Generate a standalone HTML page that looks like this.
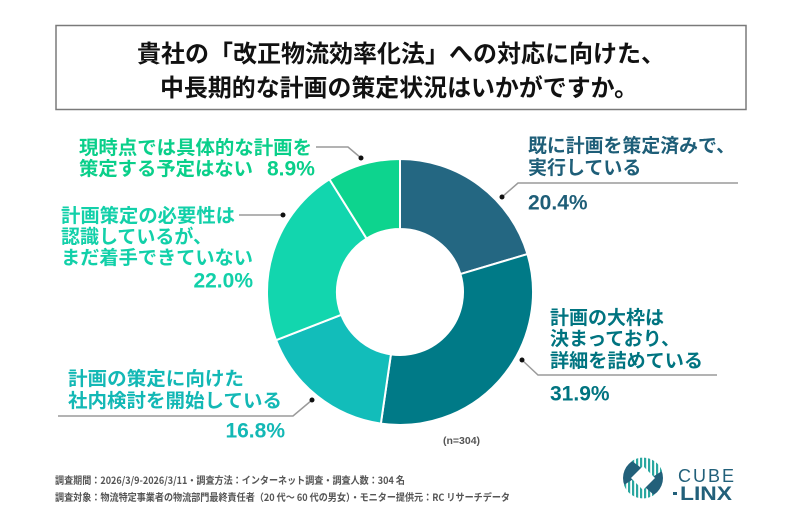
<!DOCTYPE html>
<html>
<head>
<meta charset="utf-8">
<style>
html,body{margin:0;padding:0;background:#fff;}
svg{display:block;}
text{font-family:"Liberation Sans","Noto Sans CJK JP",sans-serif;font-weight:bold;}
.jp{font-family:"Noto Sans CJK JP","Liberation Sans",sans-serif;font-weight:bold;}
</style>
</head>
<body>
<svg width="800" height="525" viewBox="0 0 800 525" xmlns="http://www.w3.org/2000/svg">
<defs>
<pattern id="st" width="4" height="4" patternUnits="userSpaceOnUse">
<rect width="4" height="4" fill="#ffffff"/>
<rect width="2.2" height="4" fill="#2aa7a0"/>
</pattern>
</defs>
<rect width="800" height="525" fill="#fff"/>

<!-- Title box -->
<rect x="56" y="25.5" width="690" height="84" fill="#fff" stroke="#7a7a7a" stroke-width="1.5"/>
<text class="jp" x="137" y="62" font-size="24" fill="#111" textLength="528" lengthAdjust="spacingAndGlyphs">貴社の「改正物流効率化法」への対応に向けた、</text>
<text class="jp" x="160" y="96" font-size="24" fill="#111" textLength="478" lengthAdjust="spacingAndGlyphs">中長期的な計画の策定状況はいかがですか。</text>

<!-- Donut -->
<g stroke="#fff" stroke-width="2" stroke-linejoin="round">
<path d="M400,159 A133,133 0 0 1 527.48,254.08 L460.39,274.04 A63,63 0 0 0 400,229 Z" fill="#246782"/>
<path d="M527.48,254.08 A133,133 0 0 1 380.85,423.62 L390.93,354.34 A63,63 0 0 0 460.39,274.04 Z" fill="#007a87"/>
<path d="M380.85,423.62 A133,133 0 0 1 276.03,340.17 L341.28,314.82 A63,63 0 0 0 390.93,354.34 Z" fill="#12bdba"/>
<path d="M276.03,340.17 A133,133 0 0 1 329.44,179.26 L366.58,238.59 A63,63 0 0 0 341.28,314.82 Z" fill="#12d6ae"/>
<path d="M329.44,179.26 A133,133 0 0 1 400,159 L400,229 A63,63 0 0 0 366.58,238.59 Z" fill="#0dd48e"/>
</g>

<!-- Leader lines -->
<g fill="none" stroke="#9a9a9a" stroke-width="1.5">
<polyline points="316,147 348,147 361,158"/>
<polyline points="239,215 283,215"/>
<polyline points="58,416 293,416 312,400"/>
<polyline points="738,183 518,183 502,197"/>
<polyline points="717,375 538,375 522,360"/>
</g>
<g fill="#111">
<circle cx="361" cy="158" r="2.5"/>
<circle cx="283" cy="215" r="2.5"/>
<circle cx="312" cy="400" r="2.5"/>
<circle cx="502" cy="197" r="2.5"/>
<circle cx="522" cy="360" r="2.5"/>
</g>

<!-- Green label -->
<g fill="#0acf8a">
<text class="jp" x="79" y="154" font-size="19" textLength="233" lengthAdjust="spacingAndGlyphs">現時点では具体的な計画を</text>
<text class="jp" x="79" y="175" font-size="19" textLength="174" lengthAdjust="spacingAndGlyphs">策定する予定はない</text>
<text x="267" y="175.5" font-size="21">8.9%</text>
</g>

<!-- Aqua label -->
<g fill="#12d0a9">
<text class="jp" x="61" y="222" font-size="19" textLength="174" lengthAdjust="spacingAndGlyphs">計画策定の必要性は</text>
<text class="jp" x="61" y="243" font-size="19">認識しているが、</text>
<text class="jp" x="61" y="264" font-size="19" textLength="192" lengthAdjust="spacingAndGlyphs">まだ着手できていない</text>
<text x="253" y="287.5" font-size="21" text-anchor="end">22.0%</text>
</g>

<!-- Cyan label -->
<g fill="#13b8b5">
<text class="jp" x="68" y="385" font-size="19" textLength="176" lengthAdjust="spacingAndGlyphs">計画の策定に向けた</text>
<text class="jp" x="68" y="407" font-size="19" textLength="214" lengthAdjust="spacingAndGlyphs">社内検討を開始している</text>
<text x="285" y="437.5" font-size="21" text-anchor="end">16.8%</text>
</g>

<!-- Dark blue label -->
<g fill="#1e5e78">
<text class="jp" x="528" y="152" font-size="19" textLength="207" lengthAdjust="spacingAndGlyphs">既に計画を策定済みで、</text>
<text class="jp" x="528" y="174" font-size="19">実行している</text>
<text x="528" y="209.5" font-size="21">20.4%</text>
</g>

<!-- Teal label -->
<g fill="#007480">
<text class="jp" x="550" y="324" font-size="19">計画の大枠は</text>
<text class="jp" x="550" y="345" font-size="19">決まっており、</text>
<text class="jp" x="550" y="367" font-size="19" textLength="153" lengthAdjust="spacingAndGlyphs">詳細を詰めている</text>
<text x="550" y="400.5" font-size="21">31.9%</text>
</g>

<text x="443" y="444" font-size="10.5" fill="#555">(n=304)</text>

<!-- Footer -->
<text class="jp" x="55" y="484" font-size="10" fill="#555" textLength="350" lengthAdjust="spacingAndGlyphs">調査期間：2026/3/9-2026/3/11・調査方法：インターネット調査・調査人数：304 名</text>
<text class="jp" x="55" y="501" font-size="10" fill="#555" textLength="455" lengthAdjust="spacingAndGlyphs">調査対象：物流特定事業者の物流部門最終責任者（20 代～ 60 代の男女）・モニター提供元：RC リサーチデータ</text>

<!-- Logo -->
<g>
<circle cx="643" cy="478" r="20" fill="#22607a"/>
<path d="M632,461 A20,20 0 0 1 662,471 L651,478 L640,467 Z" fill="url(#st)"/>
<path d="M624,485 A20,20 0 0 0 654,495 L646,488 L635,478 Z" fill="url(#st)"/>
<path d="M643,466 L655,478 L643,490 L631,478 Z" fill="#fff"/>
<text x="678" y="482" font-size="18" font-weight="normal" fill="#22607a" style="font-weight:normal" letter-spacing="2">CUBE</text>
<rect x="673" y="492" width="4" height="3" fill="#22607a"/>
<text x="680" y="500" font-size="19" fill="#22607a" textLength="52" lengthAdjust="spacingAndGlyphs">LINX</text>
</g>
</svg>
</body>
</html>
